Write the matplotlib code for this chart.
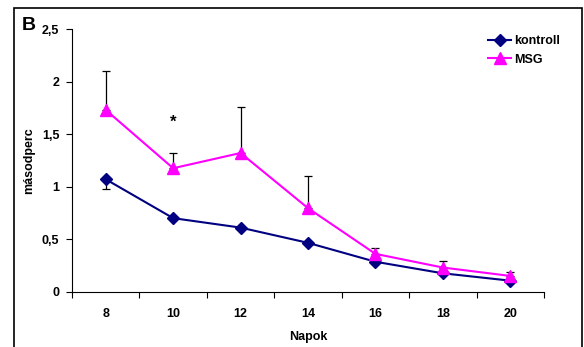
import numpy as np
import matplotlib
matplotlib.use("Agg")
import matplotlib.pyplot as plt
from matplotlib.patches import Rectangle

plt.rcParams['font.family'] = ['Liberation Sans', 'DejaVu Sans']
plt.rcParams['font.weight'] = 'bold'

days = [8, 10, 12, 14, 16, 18, 20]
kontroll = [1.07, 0.70, 0.61, 0.465, 0.285, 0.175, 0.105]
kontroll_err = [0.09, 0.0, 0.0, 0.0, 0.0, 0.0, 0.0]
msg = [1.73, 1.175, 1.32, 0.795, 0.36, 0.23, 0.15]
msg_err = [0.37, 0.145, 0.44, 0.305, 0.06, 0.06, 0.035]
y_ticks = [0, 0.5, 1, 1.5, 2, 2.5]
y_ticklabels = ["0", "0,5", "1", "1,5", "2", "2,5"]

fig = plt.figure(figsize=(5.84, 3.47), dpi=100)
ax = fig.add_axes([72 / 584, 1 - 291.7 / 347, 472 / 584, 262.7 / 347])

# error bars first so markers sit on top
ax.errorbar(days, kontroll, yerr=[kontroll_err, np.zeros(len(days))], fmt='none',
            ecolor='black', elinewidth=0.9, capsize=3, capthick=0.9, zorder=2)
ax.errorbar(days, msg, yerr=[np.zeros(len(days)), msg_err], fmt='none',
            ecolor='black', elinewidth=0.9, capsize=3, capthick=0.9, zorder=2)

ax.plot(days, kontroll, color='#000080', lw=1.5, marker='D', ms=6,
        label='kontroll', zorder=3)
ax.plot(days, msg, color='#FF00FF', lw=1.5, marker='^', ms=9,
        label='MSG', zorder=3)

ax.text(10, 1.61, '*', ha='center', va='center', fontsize=12)

ax.set_xlim(7, 21)
ax.set_ylim(0, 2.5)
ax.set_xticks(np.arange(7, 22, 2))
ax.set_xticklabels([])
ax.set_xticks(days, minor=True)
ax.set_xticklabels([str(d) for d in days], minor=True, fontsize=9)
ax.tick_params(axis='x', which='major', direction='out', length=4, width=0.8)
ax.tick_params(axis='x', which='minor', length=0, pad=12)
ax.set_yticks(y_ticks)
ax.set_yticklabels(y_ticklabels, fontsize=9)
ax.tick_params(axis='y', direction='out', length=4, width=0.8, pad=5)

for side in ['top', 'right']:
    ax.spines[side].set_visible(False)
for side in ['left', 'bottom']:
    ax.spines[side].set_linewidth(0.8)

ax.set_xlabel('Napok', fontsize=9, fontweight='bold', labelpad=8)
ax.set_ylabel('másodperc', fontsize=9, fontweight='bold', labelpad=5)

ax.legend(loc='upper left', bbox_to_anchor=(0.87, 0.995), frameon=False,
          handlelength=1.9, handletextpad=0.2, labelspacing=0.5,
          borderaxespad=0, prop={'weight': 'bold', 'size': 9})

fig.text(29 / 584, 1 - 25 / 347, 'B', fontsize=14, fontweight='bold',
         ha='center', va='center')

# outer frame of the panel
fig.patches.append(Rectangle((14 / 584, -0.1), 568 / 584, 1.1 - 8 / 347,
                             transform=fig.transFigure, fill=False,
                             edgecolor='black', lw=1.2))

fig.savefig('out.png', dpi=100)
